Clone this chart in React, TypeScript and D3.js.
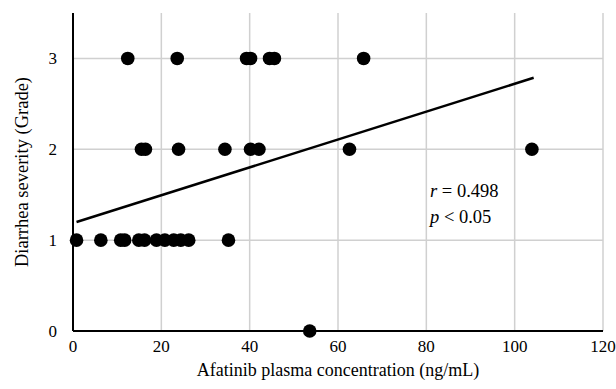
import * as d3 from "d3";

// concentration (ng/mL) and diarrhea grade
const grade3X = [12.4, 23.6, 39.3, 40.2, 44.5, 45.6, 65.8];
const grade2X = [15.5, 16.4, 23.9, 34.4, 40.2, 42.1, 62.6, 103.9];
const grade1X = [0.8, 6.3, 10.8, 11.7, 14.9, 16.2, 18.9, 20.8, 22.8, 24.4, 26.2, 35.2];
const grade0X = [53.6];

// trend line as drawn in the figure
const trendX = [0.8, 104.3];
const trendIntercept = 1.188;
const trendSlope = 0.01533;

const xTicks = [0, 20, 40, 60, 80, 100, 120];
const yTicks = [0, 1, 2, 3];

const width = 616;
const height = 389;
const margin = { top: 13, right: 13, bottom: 58, left: 73 };

export default function App() {
  const x = d3
    .scaleLinear()
    .domain([0, 120])
    .range([margin.left, width - margin.right]);
  const y = d3
    .scaleLinear()
    .domain([0, 3.5])
    .range([height - margin.bottom, margin.top]);

  const points = [
    ...grade3X.map((v) => [v, 3]),
    ...grade2X.map((v) => [v, 2]),
    ...grade1X.map((v) => [v, 1]),
    ...grade0X.map((v) => [v, 0]),
  ];

  const trend = d3
    .line<number>()
    .x((d) => x(d))
    .y((d) => y(trendIntercept + trendSlope * d));

  const font = "'Liberation Serif', 'Times New Roman', serif";

  return (
    <svg
      width={width}
      height={height}
      style={{ position: "absolute", left: 0, top: 0, background: "#fff" }}
      fontFamily={font}
    >
      {/* grid */}
      {xTicks.slice(1).map((t) => (
        <line
          key={"gx" + t}
          x1={x(t)}
          x2={x(t)}
          y1={y(0)}
          y2={y(3.5)}
          stroke="#d0d0d0"
          strokeWidth={1.5}
        />
      ))}
      {yTicks.slice(1).map((t) => (
        <line
          key={"gy" + t}
          x1={x(0)}
          x2={x(120)}
          y1={y(t)}
          y2={y(t)}
          stroke="#d0d0d0"
          strokeWidth={1.5}
        />
      ))}
      {/* axes */}
      <line x1={x(0)} x2={x(0)} y1={y(0)} y2={y(3.5)} stroke="#000" strokeWidth={2} />
      <line x1={x(0)} x2={x(120)} y1={y(0)} y2={y(0)} stroke="#000" strokeWidth={2} />

      {xTicks.map((t) => (
        <text key={"tx" + t} x={x(t)} y={y(0) + 21} textAnchor="middle" fontSize={17}>
          {t}
        </text>
      ))}
      {yTicks.map((t) => (
        <text key={"ty" + t} x={x(0) - 16} y={y(t) + 6} textAnchor="end" fontSize={17}>
          {t}
        </text>
      ))}

      <path d={trend(trendX) || ""} fill="none" stroke="#000" strokeWidth={2.5} />

      {points.map(([px, py], i) => (
        <circle key={i} cx={x(px)} cy={y(py)} r={6.8} fill="#000" />
      ))}

      <text x={430} y={197} fontSize={18.5}>
        <tspan fontStyle="italic">r</tspan> = 0.498
      </text>
      <text x={430} y={223} fontSize={18.5}>
        <tspan fontStyle="italic">p</tspan> &lt; 0.05
      </text>

      <text x={(x(0) + x(120)) / 2} y={376} textAnchor="middle" fontSize={18}>
        Afatinib plasma concentration (ng/mL)
      </text>
      <text
        transform={`translate(28,${(y(0) + y(3.5)) / 2}) rotate(-90)`}
        textAnchor="middle"
        fontSize={18.5}
      >
        Diarrhea severity (Grade)
      </text>
    </svg>
  );
}
